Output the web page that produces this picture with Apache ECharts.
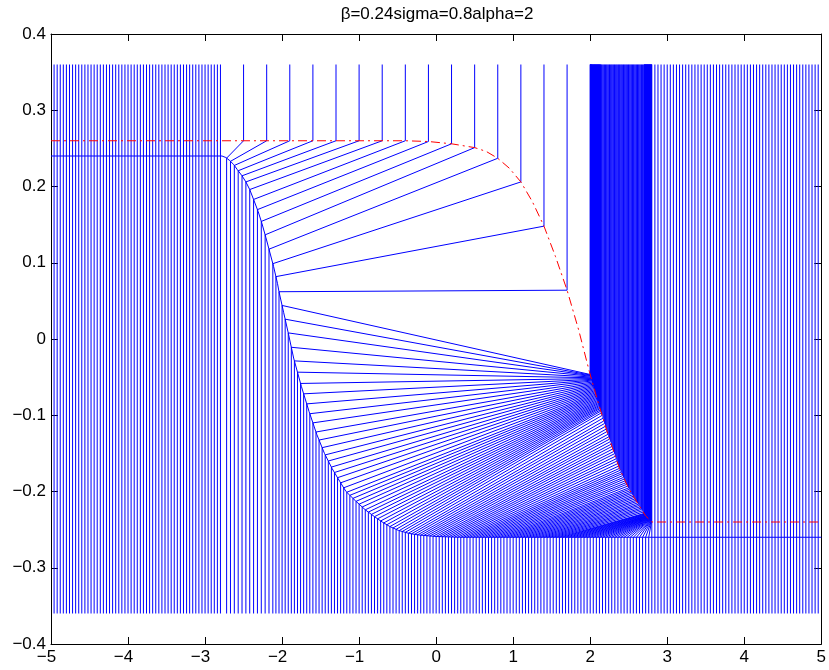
<!DOCTYPE html>
<html>
<head>
<meta charset="utf-8">
<script src="https://cdn.jsdelivr.net/npm/echarts@6/dist/echarts.min.js"></script>
<style>
  html, body { margin: 0; padding: 0; background: #fff; }
  #chart { width: 829px; height: 670px; }
</style>
</head>
<body>
<div id="chart"></div>
<script>
// Initial profile (dash-dot red curve)
const initialProfile = [
  [-5, 0.26], [-0.4, 0.26], [-0.1, 0.259], [0.2, 0.256], [0.5, 0.251], [0.65, 0.246],
  [0.8, 0.237], [0.95, 0.224], [1.1, 0.206], [1.25, 0.18], [1.4, 0.148], [1.55, 0.108],
  [1.7, 0.064], [1.85, 0.012], [1.99, -0.043], [2.1, -0.082], [2.23, -0.125], [2.38, -0.17],
  [2.5, -0.196], [2.62, -0.216], [2.72, -0.232], [2.8, -0.24], [5, -0.24]
];

// Resulting profile (solid blue curve)
const finalProfile = [
  [-5, 0.24], [-2.78, 0.24], [-2.73, 0.238], [-2.68, 0.234], [-2.63, 0.229], [-2.58, 0.222],
  [-2.52, 0.214], [-2.47, 0.206], [-2.42, 0.196], [-2.37, 0.183], [-2.31, 0.167], [-2.26, 0.151],
  [-2.21, 0.133], [-2.16, 0.114], [-2.11, 0.095], [-2.06, 0.073], [-2.04, 0.062], [-1.98, 0.035],
  [-1.92, 0.008], [-1.85, -0.025], [-1.75, -0.062], [-1.65, -0.095], [-1.55, -0.125],
  [-1.45, -0.15], [-1.35, -0.17], [-1.25, -0.187], [-1.17, -0.2], [-1.05, -0.212],
  [-0.92, -0.224], [-0.8, -0.233], [-0.7, -0.24], [-0.6, -0.246], [-0.49, -0.251],
  [-0.35, -0.255], [-0.23, -0.257], [0, -0.259], [0.3, -0.26], [5, -0.26]
];

// Extent of the trajectories
const yTop = 0.36;
const yBottom = -0.36;

// Unchanged trajectories on a regular grid, on both sides
const gridStep = 0.04;
const leftGrid = [-4.96, -2.80];
const rightGrid = [2.84, 4.96];

// Coarse trajectories: start position and end position
const coarseStart = [-2.5, -2.2, -1.9, -1.6, -1.3, -1.0, -0.7, -0.4, -0.1, 0.2, 0.5, 0.8, 1.1, 1.4, 1.7];
const coarseEnd = [-2.72, -2.67, -2.62, -2.57, -2.52, -2.47, -2.42, -2.37, -2.32, -2.27, -2.22, -2.17, -2.12, -2.08, -2.04];

// Fan trajectories: end positions run over the grid from -2.00 to 2.80
const fanEndGrid = [-2.00, 2.80];
const fanStart = [
  2.000, 2.002, 2.004, 2.006, 2.009, 2.012, 2.015, 2.018, 2.021, 2.024,
  2.028, 2.032, 2.036, 2.040, 2.044, 2.048, 2.052, 2.056, 2.060, 2.064,
  2.068, 2.072, 2.076, 2.080, 2.084, 2.088, 2.092, 2.096, 2.100, 2.104,
  2.108, 2.112, 2.116, 2.120, 2.124, 2.128, 2.133, 2.138,
  2.145, 2.155, 2.166, 2.177, 2.187, 2.198, 2.209, 2.219, 2.230, 2.241,
  2.251, 2.262, 2.273, 2.283, 2.294, 2.305, 2.315, 2.326, 2.337, 2.347,
  2.358, 2.369, 2.379, 2.390, 2.401, 2.411, 2.422, 2.433, 2.443, 2.454,
  2.465, 2.475, 2.486, 2.497, 2.507, 2.518, 2.529, 2.539, 2.550, 2.561,
  2.571, 2.582, 2.593, 2.603, 2.614, 2.625, 2.635, 2.646, 2.657, 2.667,
  2.678, 2.689, 2.700,
  2.703, 2.706, 2.710, 2.713, 2.716, 2.720, 2.723, 2.726, 2.730, 2.733,
  2.736, 2.740, 2.743, 2.746, 2.750, 2.753, 2.756, 2.760, 2.763, 2.766,
  2.770, 2.773, 2.776, 2.780, 2.783, 2.786, 2.790, 2.793, 2.796, 2.800
];

const xTicks = [-5, 5, 1];
const yTicks = [-0.4, 0.4, 0.1];
const titleText = 'β=0.24sigma=0.8alpha=2';

const FONT = '"Liberation Sans", Arial, Helvetica, sans-serif';
const FONT_SIZE = 17;
const MINUS = '\u2212';

// Height of a profile polyline at position x
function profileAt(profile, x) {
  for (let i = 1; i < profile.length; i++) {
    const a = profile[i - 1], b = profile[i];
    if (x <= b[0]) {
      const t = (x - a[0]) / (b[0] - a[0]);
      return a[1] + t * (b[1] - a[1]);
    }
  }
  return profile[profile.length - 1][1];
}

function gridPositions(range) {
  const out = [];
  const n = Math.round((range[1] - range[0]) / gridStep);
  for (let k = 0; k <= n; k++) out.push(+(range[0] + k * gridStep).toFixed(4));
  return out;
}

// Trajectory: straight down to the initial profile, across to the result, then down
function trajectory(x0, x1) {
  if (x0 === x1) return [[x0, yTop], [x0, yBottom]];
  return [
    [x0, yTop],
    [x0, profileAt(initialProfile, x0)],
    [x1, profileAt(finalProfile, x1)],
    [x1, yBottom]
  ];
}

const paths = [];
gridPositions(leftGrid).forEach(x => paths.push({ coords: trajectory(x, x) }));
coarseStart.forEach((x0, i) => paths.push({ coords: trajectory(x0, coarseEnd[i]) }));
gridPositions(fanEndGrid).forEach((x1, i) => paths.push({ coords: trajectory(fanStart[i], x1) }));
gridPositions(rightGrid).forEach(x => paths.push({ coords: trajectory(x, x) }));

const numText = v => {
  let s = (Math.round(v * 10) / 10).toString();
  if (s === '-0') s = '0';
  return s;
};

// y labels: right aligned, typographic minus
const yFmt = v => numText(v).replace('-', MINUS);
// x labels: digits centred on the tick, minus sign hanging to the left
const xFmt = v => {
  const s = numText(v);
  if (s.charAt(0) === '-') return '{m|' + MINUS + '}{d|' + s.slice(1) + '}';
  return '{p|' + s + '}';
};

const labelStyle = { color: '#000', fontSize: FONT_SIZE, fontFamily: FONT };

const axisCommon = {
  type: 'value',
  axisLine: { show: true, onZero: false, lineStyle: { color: '#000', width: 1 } },
  axisTick: { show: true, inside: true, length: 7, lineStyle: { color: '#000', width: 1 } },
  splitLine: { show: false }
};

const chart = echarts.init(document.getElementById('chart'), null, { renderer: 'canvas' });
chart.setOption({
  animation: false,
  backgroundColor: '#fff',
  grid: { left: 51, right: 6, top: 34, bottom: 26, containLabel: false },
  xAxis: [
    Object.assign({}, axisCommon, {
      position: 'bottom', min: xTicks[0], max: xTicks[1], interval: xTicks[2],
      axisLabel: Object.assign({}, labelStyle, {
        margin: 5, formatter: xFmt,
        rich: {
          m: Object.assign({}, labelStyle),
          d: Object.assign({}, labelStyle, { padding: [0, 9, 0, 0] }),
          p: Object.assign({}, labelStyle)
        }
      })
    }),
    Object.assign({}, axisCommon, { position: 'top', min: xTicks[0], max: xTicks[1], interval: xTicks[2],
      axisLabel: { show: false } })
  ],
  yAxis: [
    Object.assign({}, axisCommon, { position: 'left', min: yTicks[0], max: yTicks[1], interval: yTicks[2],
      axisLabel: Object.assign({}, labelStyle, { margin: 5, formatter: yFmt }) }),
    Object.assign({}, axisCommon, { position: 'right', min: yTicks[0], max: yTicks[1], interval: yTicks[2],
      axisLabel: { show: false } })
  ],
  graphic: [{
    type: 'text', x: 437, y: 14,
    style: { text: titleText, fill: '#000', font: FONT_SIZE + 'px ' + FONT,
      textAlign: 'center', textVerticalAlign: 'middle' }
  }],
  series: [
    {
      type: 'lines', coordinateSystem: 'cartesian2d', polyline: true, silent: true,
      xAxisIndex: 0, yAxisIndex: 0,
      lineStyle: { color: '#0000ff', width: 1, opacity: 1 },
      data: paths, z: 2
    },
    {
      type: 'line', data: finalProfile, showSymbol: false, silent: true,
      xAxisIndex: 0, yAxisIndex: 0,
      lineStyle: { color: '#0000ff', width: 1 }, z: 3
    },
    {
      type: 'line', data: initialProfile, showSymbol: false, silent: true,
      xAxisIndex: 0, yAxisIndex: 0,
      lineStyle: { color: '#ff0000', width: 1, type: [9, 4, 2, 4] }, z: 4
    }
  ]
});
</script>
</body>
</html>
